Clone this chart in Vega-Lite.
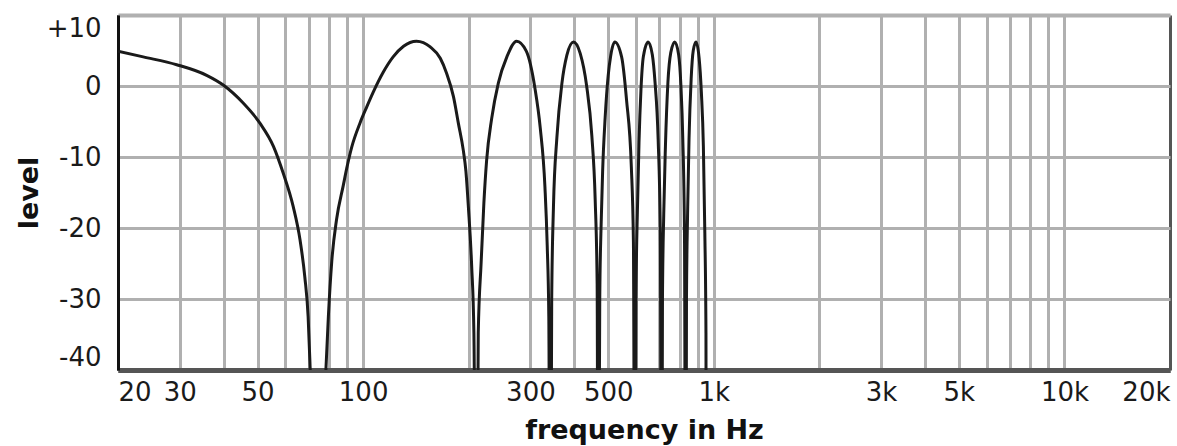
{
  "$schema": "https://vega.github.io/schema/vega-lite/v6.json",
  "width": 1052,
  "height": 355,
  "autosize": {"type": "none"},
  "padding": {"left": 118, "top": 15, "right": 7, "bottom": 76},
  "background": "white",
  "config": {"view": {"stroke": null}, "font": "DejaVu Sans"},
  "data": {
    "values": [
      {"frequency": 20, "level": 4.9},
      {"frequency": 23.6, "level": 4.1},
      {"frequency": 29.4, "level": 3.0},
      {"frequency": 35.8, "level": 1.5},
      {"frequency": 40, "level": 0.1},
      {"frequency": 45.5, "level": -2.4},
      {"frequency": 50.9, "level": -5.3},
      {"frequency": 55.5, "level": -8.5},
      {"frequency": 59.2, "level": -12.3},
      {"frequency": 63.2, "level": -17},
      {"frequency": 66.1, "level": -21.7},
      {"frequency": 68.2, "level": -26.9},
      {"frequency": 69.7, "level": -32.5},
      {"frequency": 70.6, "level": -39.5},
      {"frequency": 74.4, "level": -80},
      {"frequency": 78.4, "level": -39.5},
      {"frequency": 79.6, "level": -32.5},
      {"frequency": 81.4, "level": -24.7},
      {"frequency": 84, "level": -18.8},
      {"frequency": 87.8, "level": -14.0},
      {"frequency": 89.8, "level": -11.6},
      {"frequency": 92.8, "level": -8.6},
      {"frequency": 98, "level": -5.2},
      {"frequency": 102.5, "level": -2.9},
      {"frequency": 106.8, "level": -0.9},
      {"frequency": 114, "level": 1.9},
      {"frequency": 121.8, "level": 4.1},
      {"frequency": 130.4, "level": 5.6},
      {"frequency": 142, "level": 6.3},
      {"frequency": 155.4, "level": 5.5},
      {"frequency": 166, "level": 3.9},
      {"frequency": 173, "level": 1.8},
      {"frequency": 181, "level": -1.5},
      {"frequency": 187, "level": -5.3},
      {"frequency": 193, "level": -9.0},
      {"frequency": 196.4, "level": -12.0},
      {"frequency": 199.6, "level": -17},
      {"frequency": 204, "level": -25.4},
      {"frequency": 207, "level": -34.8},
      {"frequency": 210.5, "level": -80},
      {"frequency": 213, "level": -34.8},
      {"frequency": 217, "level": -25},
      {"frequency": 221, "level": -16.5},
      {"frequency": 225, "level": -10.5},
      {"frequency": 232.6, "level": -4.6},
      {"frequency": 243, "level": 0.4},
      {"frequency": 257, "level": 4.1},
      {"frequency": 274, "level": 6.3},
      {"frequency": 292, "level": 4.9},
      {"frequency": 309, "level": -0.3},
      {"frequency": 320, "level": -5.9},
      {"frequency": 330, "level": -14.2},
      {"frequency": 335, "level": -22.5},
      {"frequency": 338.5, "level": -32.5},
      {"frequency": 342, "level": -80},
      {"frequency": 345, "level": -30},
      {"frequency": 349, "level": -17},
      {"frequency": 357, "level": -7.2},
      {"frequency": 369, "level": 0.4},
      {"frequency": 381, "level": 4.3},
      {"frequency": 398, "level": 6.2},
      {"frequency": 416, "level": 4.6},
      {"frequency": 434, "level": 0.0},
      {"frequency": 449, "level": -7.0},
      {"frequency": 459, "level": -16},
      {"frequency": 465, "level": -28},
      {"frequency": 468, "level": -80},
      {"frequency": 473, "level": -30},
      {"frequency": 477, "level": -20},
      {"frequency": 482, "level": -12},
      {"frequency": 490, "level": -4.5},
      {"frequency": 500, "level": 1.5},
      {"frequency": 508, "level": 4.2},
      {"frequency": 522, "level": 6.2},
      {"frequency": 546, "level": 4.1},
      {"frequency": 564, "level": -2.0},
      {"frequency": 582, "level": -11.4},
      {"frequency": 590, "level": -22},
      {"frequency": 596, "level": -80},
      {"frequency": 600, "level": -30},
      {"frequency": 606, "level": -17},
      {"frequency": 612, "level": -8},
      {"frequency": 620, "level": -0.5},
      {"frequency": 630, "level": 4.2},
      {"frequency": 650, "level": 6.2},
      {"frequency": 668, "level": 4.4},
      {"frequency": 680, "level": 0.5},
      {"frequency": 694, "level": -7.5},
      {"frequency": 704, "level": -20.7},
      {"frequency": 710, "level": -80},
      {"frequency": 714, "level": -30},
      {"frequency": 720, "level": -18},
      {"frequency": 728, "level": -8.5},
      {"frequency": 740, "level": 0.5},
      {"frequency": 754, "level": 4.7},
      {"frequency": 774, "level": 6.2},
      {"frequency": 794, "level": 4.4},
      {"frequency": 806, "level": 0.0},
      {"frequency": 816, "level": -7.5},
      {"frequency": 825, "level": -20.7},
      {"frequency": 832, "level": -80},
      {"frequency": 836, "level": -30},
      {"frequency": 842, "level": -18},
      {"frequency": 850, "level": -7.5},
      {"frequency": 862, "level": 1.0},
      {"frequency": 874, "level": 5.0},
      {"frequency": 890, "level": 6.2},
      {"frequency": 908, "level": 4.0},
      {"frequency": 922, "level": -1.0},
      {"frequency": 934, "level": -8.5},
      {"frequency": 943, "level": -20.7},
      {"frequency": 950, "level": -34.8},
      {"frequency": 953, "level": -80}
    ]
  },
  "mark": {"type": "line", "color": "#1a1a1a", "strokeWidth": 3, "clip": true, "interpolate": "monotone"},
  "encoding": {
    "x": {
      "field": "frequency",
      "type": "quantitative",
      "scale": {"type": "log", "domain": [20, 20000], "nice": false},
      "axis": {
        "title": "frequency in Hz",
        "values": [20, 30, 40, 50, 60, 70, 80, 90, 100, 200, 300, 400, 500, 600, 700, 800, 900, 1000, 2000, 3000, 4000, 5000, 6000, 7000, 8000, 9000, 10000, 20000],
        "labelExpr": "indexof([20,30,50,100,300,500,1000,3000,5000,10000,20000], datum.value) >= 0 ? (datum.value >= 1000 ? (datum.value / 1000) + 'k' : '' + datum.value) : ''",
        "labelOverlap": false,
        "labelFlush": true,
        "labelFont": "DejaVu Sans",
        "labelFontSize": 26,
        "labelColor": "#1a1a1a",
        "labelPadding": 9,
        "ticks": false,
        "domainColor": "#555555",
        "domainWidth": 5,
        "grid": true,
        "gridColor": {"condition": [{"test": "datum.value == 20", "value": "#111111"}, {"test": "datum.value == 20000", "value": "#555555"}], "value": "#b0b0b0"},
        "gridWidth": 3,
        "titleFont": "DejaVu Sans",
        "titleFontSize": 27,
        "titleFontWeight": "bold",
        "titleColor": "#111111",
        "titleBaseline": "alphabetic",
        "titleY": 68
      }
    },
    "y": {
      "field": "level",
      "type": "quantitative",
      "scale": {"domain": [-40, 10], "nice": false, "zero": false},
      "axis": {
        "title": "level",
        "values": [-40, -30, -20, -10, 0, 10],
        "labelExpr": "datum.value > 0 ? '+' + datum.value : '' + datum.value",
        "labelOverlap": false,
        "labelFlush": true,
        "labelFont": "DejaVu Sans",
        "labelFontSize": 26,
        "labelColor": "#1a1a1a",
        "labelPadding": 17,
        "ticks": false,
        "domainColor": "#111111",
        "domainWidth": 3,
        "grid": true,
        "gridColor": {"condition": {"test": "datum.value == -40", "value": "#555555"}, "value": "#b0b0b0"},
        "gridWidth": {"condition": [{"test": "datum.value == -40", "value": 5}, {"test": "datum.value == 10", "value": 4}], "value": 3},
        "titleFont": "DejaVu Sans",
        "titleFontSize": 27,
        "titleFontWeight": "bold",
        "titleColor": "#111111",
        "titleAngle": -90,
        "titleAlign": "center",
        "titleBaseline": "alphabetic",
        "titleX": -81,
        "titleY": 177.5
      }
    }
  }
}
